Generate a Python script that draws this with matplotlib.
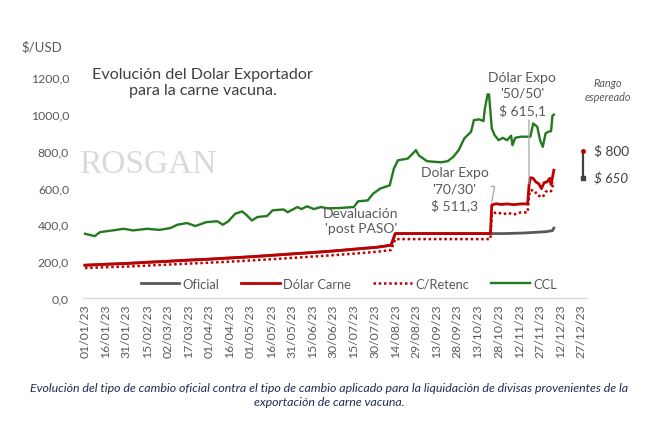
import matplotlib
matplotlib.use("Agg")
import matplotlib.pyplot as plt
import pandas as pd

# ---------------- data ----------------
oficial_dates = ['2023-01-01', '2023-01-15', '2023-02-01', '2023-02-15', '2023-03-01', '2023-03-15',
                 '2023-04-01', '2023-04-15', '2023-05-01', '2023-05-15', '2023-06-01', '2023-06-15',
                 '2023-07-01', '2023-07-15', '2023-08-01', '2023-08-11', '2023-08-14', '2023-09-15',
                 '2023-10-15', '2023-11-01', '2023-11-15', '2023-12-01', '2023-12-06', '2023-12-07']
oficial_values = [178, 183, 188, 194, 199, 205, 211, 217, 224, 231, 240, 247,
                  256, 265, 276, 287, 350, 350, 350, 350, 353, 360, 366, 380]

carne_dates = ['2023-01-01', '2023-01-15', '2023-02-01', '2023-02-15', '2023-03-01', '2023-03-15',
               '2023-04-01', '2023-04-15', '2023-05-01', '2023-05-15', '2023-06-01', '2023-06-15',
               '2023-07-01', '2023-07-15', '2023-08-01', '2023-08-11', '2023-08-14', '2023-10-22',
               '2023-10-23', '2023-10-26', '2023-10-30', '2023-11-03', '2023-11-08', '2023-11-13',
               '2023-11-18', '2023-11-19', '2023-11-20', '2023-11-22', '2023-11-24', '2023-11-26',
               '2023-11-28', '2023-11-30', '2023-12-02', '2023-12-04', '2023-12-05', '2023-12-07']
carne_values = [178, 183, 188, 194, 199, 205, 211, 217, 224, 231, 240, 247,
                256, 265, 276, 287, 350, 350,
                505, 512, 508, 511, 507, 511,
                511, 612, 654, 650, 630, 621,
                594, 627, 630, 650, 616, 694]

retenc_dates = ['2023-01-01', '2023-01-15', '2023-02-01', '2023-02-15', '2023-03-01', '2023-03-15',
                '2023-04-01', '2023-04-15', '2023-05-01', '2023-05-15', '2023-06-01', '2023-06-15',
                '2023-07-01', '2023-07-15', '2023-08-01', '2023-08-11', '2023-08-14', '2023-10-22',
                '2023-10-23', '2023-10-27', '2023-10-31', '2023-11-04', '2023-11-08', '2023-11-13',
                '2023-11-18', '2023-11-19', '2023-11-20', '2023-11-23', '2023-11-25', '2023-11-27',
                '2023-11-29', '2023-12-01', '2023-12-03', '2023-12-05', '2023-12-07']
retenc_values = [163, 167, 171, 176, 181, 186, 192, 197, 204, 210, 218, 225,
                 233, 241, 251, 261, 320, 320,
                 458, 466, 455, 462, 453, 465,
                 465, 557, 585, 585, 557, 553,
                 548, 576, 585, 580, 630]

ccl_dates = ['2023-01-01', '2023-01-08', '2023-01-12', '2023-01-21', '2023-01-29', '2023-02-05',
             '2023-02-15', '2023-02-24', '2023-03-04', '2023-03-09', '2023-03-16', '2023-03-22',
             '2023-03-30', '2023-04-07', '2023-04-11', '2023-04-15', '2023-04-20', '2023-04-25',
             '2023-04-28', '2023-05-02', '2023-05-06', '2023-05-13', '2023-05-17', '2023-05-25',
             '2023-05-28', '2023-06-04', '2023-06-07', '2023-06-11', '2023-06-16', '2023-06-21',
             '2023-06-26', '2023-07-05', '2023-07-15', '2023-07-18', '2023-07-25', '2023-07-29',
             '2023-08-03', '2023-08-10', '2023-08-13', '2023-08-16', '2023-08-23', '2023-08-26',
             '2023-08-29', '2023-08-31', '2023-09-06', '2023-09-16', '2023-09-21', '2023-09-25',
             '2023-09-29', '2023-10-03', '2023-10-08', '2023-10-10', '2023-10-14', '2023-10-17',
             '2023-10-18', '2023-10-20', '2023-10-21', '2023-10-23', '2023-10-25', '2023-10-28',
             '2023-10-31', '2023-11-03', '2023-11-06', '2023-11-07', '2023-11-09', '2023-11-13',
             '2023-11-20', '2023-11-22', '2023-11-25', '2023-11-27', '2023-11-29', '2023-12-01',
             '2023-12-03', '2023-12-05', '2023-12-06', '2023-12-07']
ccl_values = [349, 336, 358, 367, 376, 367,
              376, 370, 380, 398, 407, 391,
              412, 417, 398, 417, 458, 470,
              452, 421, 440, 445, 476, 481,
              466, 494, 483, 498, 483, 494,
              487, 489, 494, 525, 530, 567,
              594, 612, 703, 748, 757, 779,
              803, 775, 743, 737, 743, 766,
              803, 866, 903, 966, 970, 961,
              1030, 1106, 1106, 921, 885, 857,
              870, 857, 881, 830, 870, 876,
              876, 948, 930, 857, 821, 894,
              903, 906, 990, 996]

rango_date = ['2023-12-28', '2023-12-28']
rango_values = [650, 800]

tick_dates = pd.date_range('2023-01-01', '2023-12-27', freq='15D')
y_ticks = [0, 200, 400, 600, 800, 1000, 1200]
legend_labels = ['Oficial', 'Dólar Carne', 'C/Retenc', 'CCL']

# ---------------- style ----------------
plt.rcParams['font.family'] = ['Lato', 'DejaVu Sans']
GRAY_TXT = '#595959'
C_OF = '#595959'
C_RED = '#C00000'
C_GREEN = '#237A1C'

fig = plt.figure(figsize=(6.58, 4.35), dpi=100)
ax = fig.add_axes([0.126, 0.3126, 0.766, 0.508])

to_dt = pd.to_datetime
l1, = ax.plot(to_dt(oficial_dates), oficial_values, color=C_OF, lw=2.0, zorder=2)
l2, = ax.plot(to_dt(carne_dates), carne_values, color=C_RED, lw=2.0, zorder=3)
l3, = ax.plot(to_dt(retenc_dates), retenc_values, color=C_RED, lw=1.8,
              linestyle=(0, (1, 1.1)), zorder=3)
l4, = ax.plot(to_dt(ccl_dates), ccl_values, color=C_GREEN, lw=1.7, zorder=3)

# expected range marker
rd = to_dt(rango_date)
ax.plot(rd, rango_values, color='#404040', lw=1.6, zorder=4)
ax.plot(rd[1:], rango_values[1:], 'o', color=C_RED, ms=2.5, zorder=5)
ax.plot(rd[:1], rango_values[:1], 's', color='#404040', ms=2.2, zorder=5)

ax.set_ylim(0, 1200)
ax.set_xlim(to_dt('2023-01-01') - pd.Timedelta(days=1.5), to_dt('2023-12-31'))
ax.set_yticks(y_ticks)
ax.set_yticklabels([f'{v:.1f}'.replace('.', ',') for v in y_ticks])
ax.set_xticks(tick_dates)
ax.set_xticklabels([d.strftime('%d/%m/%y') for d in tick_dates], rotation=90)
ax.tick_params(axis='both', length=0, colors=GRAY_TXT, labelsize=8.8)
ax.tick_params(axis='y', pad=10)
ax.tick_params(axis='x', pad=4)
for s in ['top', 'right', 'left']:
    ax.spines[s].set_visible(False)
ax.spines['bottom'].set_color('#D9D9D9')
ax.spines['bottom'].set_linewidth(1.0)
ax.patch.set_alpha(0)

# legend
leg = fig.legend([l1, l2, l3, l4], legend_labels, loc='center', ncol=4,
                 bbox_to_anchor=(0.53, 0.345), frameon=False, fontsize=9.3,
                 handlelength=3.0, columnspacing=1.7, handletextpad=0.25,
                 labelcolor=GRAY_TXT)

# texts
fig.text(0.064, 0.892, '$/USD', fontsize=9.5, color=GRAY_TXT, ha='center', va='center')
fig.text(0.308, 0.81, 'Evolución del Dolar Exportador\npara la carne vacuna.',
         fontsize=11.6, color='#404040', ha='center', va='center', linespacing=1.2)
fig.text(0.225, 0.622, 'ROSGAN', fontsize=24, color='#DADADA', ha='center', va='center',
         family='Liberation Serif', zorder=0)

ax.annotate("Dólar Expo\n'50/50'\n$ 615,1", xy=(to_dt('2023-11-19'), 620),
            xytext=(to_dt('2023-11-14'), 1112), textcoords='data',
            ha='center', va='center', fontsize=10, color=GRAY_TXT, linespacing=1.4,
            arrowprops=dict(arrowstyle='-', color='#A6A6A6', lw=0.9,
                            shrinkA=1, shrinkB=0, relpos=(0.6, 0.0)))
ax.annotate("Dolar Expo\n'70/30'\n$ 511,3", xy=(to_dt('2023-10-23'), 520),
            xytext=(to_dt('2023-09-26'), 594), textcoords='data',
            ha='center', va='center', fontsize=10, color=GRAY_TXT, linespacing=1.4,
            arrowprops=dict(arrowstyle='-', color='#A6A6A6', lw=0.9,
                            shrinkA=0, shrinkB=0, relpos=(0.97, 0.55),
                            connectionstyle='angle,angleA=0,angleB=80,rad=0'))
ax.text(to_dt('2023-07-20'), 420, "Devaluación\n'post PASO'", ha='center', va='center',
        fontsize=10, color=GRAY_TXT, linespacing=1.3)
fig.text(0.924, 0.792, 'Rango\nespereado', fontsize=7.8, color=GRAY_TXT, style='italic',
         ha='center', va='center', linespacing=1.25)
ax.text(to_dt('2023-12-28') + pd.Timedelta(days=8), 800, '$ 800', fontsize=9.8,
        color='#404040', ha='left', va='center', clip_on=False)
ax.text(to_dt('2023-12-28') + pd.Timedelta(days=8), 650, '$ 650', fontsize=9.8,
        color='#404040', ha='left', va='center', style='italic', clip_on=False)

fig.text(0.5, 0.091, 'Evolución del tipo de cambio oficial contra el tipo de cambio aplicado para la '
         'liquidación de divisas provenientes de la\nexportación de carne vacuna.',
         fontsize=8.9, color='#1F2D4E', style='italic', ha='center', va='center',
         linespacing=1.3)

fig.savefig('out.png', dpi=100)
